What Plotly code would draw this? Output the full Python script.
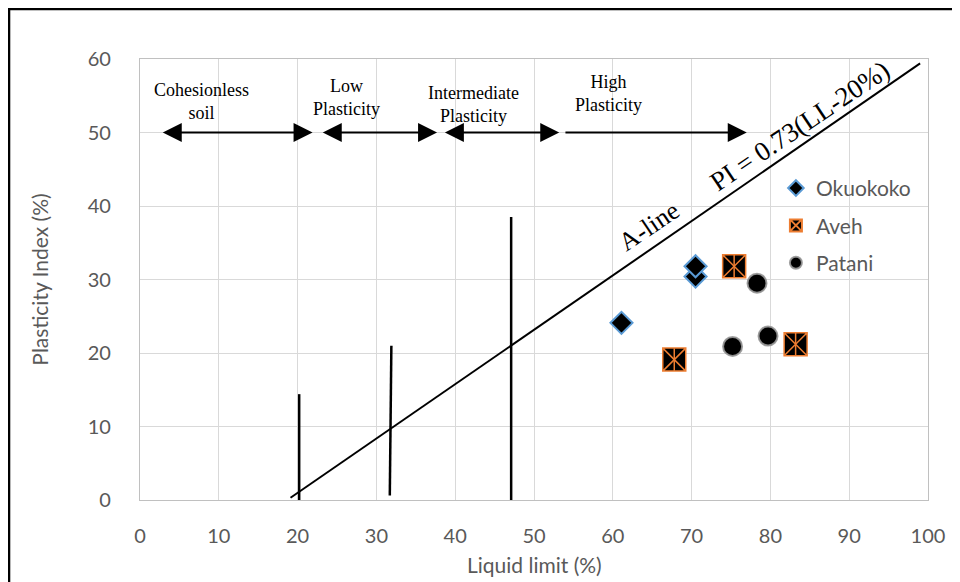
import plotly.graph_objects as go

# ---------------- data ----------------
oku_ll = [61.1, 70.5, 70.5]
oku_pi = [24.1, 30.4, 31.8]

aveh_ll = [67.8, 75.4, 83.2]
aveh_pi = [19.1, 31.8, 21.2]

pat_ll = [75.2, 78.3, 79.7]
pat_pi = [20.9, 29.5, 22.3]

aline_ll = [19.1, 99.0]
aline_pi = [0.3, 59.4]

div_ll_bottom = [20.2, 31.7, 47.1]
div_ll_top = [20.2, 31.9, 47.1]
div_pi_bottom = [0.0, 0.6, 0.0]
div_pi_top = [14.4, 21.0, 38.5]

arrow_from = [2.7, 23.0, 38.5, 53.8]
arrow_to = [21.9, 37.7, 53.2, 77.0]
arrow_pi = 50
arrow_both = [True, True, True, False]

zone_text = ["Cohesionless<br>soil", "Low<br>Plasticity", "Intermediate<br>Plasticity", "High<br>Plasticity"]
zone_ll = [7.8, 26.2, 42.3, 59.5]
zone_pi = [54.2, 54.8, 53.8, 55.3]

x_ticks = [0, 10, 20, 30, 40, 50, 60, 70, 80, 90, 100]
y_ticks = [0, 10, 20, 30, 40, 50, 60]

# ---------------- figure ----------------
GRAY = "#595959"
SERIF = "Liberation Serif, Times New Roman, serif"
SANS = "Lato, Liberation Sans, sans-serif"
ORANGE = "#ED7D31"

fig = go.Figure()

# A-line
fig.add_trace(go.Scatter(x=aline_ll, y=aline_pi, mode="lines",
                         line=dict(color="black", width=2), showlegend=False,
                         hoverinfo="skip"))

# zone divider lines
for i in range(len(div_ll_bottom)):
    fig.add_trace(go.Scatter(x=[div_ll_bottom[i], div_ll_top[i]],
                             y=[div_pi_bottom[i], div_pi_top[i]], mode="lines",
                             line=dict(color="black", width=2.5), showlegend=False,
                             hoverinfo="skip"))

# data series
fig.add_trace(go.Scatter(x=oku_ll, y=oku_pi, mode="markers", name="Okuokoko",
                         legendgroup="g1",
                         marker=dict(symbol="diamond", size=17, color="black",
                                     line=dict(color="#5B9BD5", width=2))))
fig.add_trace(go.Scatter(x=aveh_ll, y=aveh_pi, mode="markers", name="Aveh",
                         legendgroup="g2",
                         marker=dict(symbol="square-x", size=23, color="black",
                                     line=dict(color=ORANGE, width=1.5))))
fig.add_trace(go.Scatter(x=aveh_ll, y=aveh_pi, mode="markers", showlegend=False,
                         legendgroup="g2", hoverinfo="skip",
                         marker=dict(symbol="line-ns-open", size=16, color=ORANGE,
                                     line=dict(color=ORANGE, width=1.5))))
fig.add_trace(go.Scatter(x=pat_ll, y=pat_pi, mode="markers", name="Patani",
                         legendgroup="g3",
                         marker=dict(symbol="circle", size=19, color="black",
                                     line=dict(color="rgba(150,150,150,0.9)", width=2))))

annotations = []
# arrows
for a, b, both in zip(arrow_from, arrow_to, arrow_both):
    annotations.append(dict(x=b, y=arrow_pi, ax=a, ay=arrow_pi, xref="x", yref="y",
                            axref="x", ayref="y", text="", showarrow=True,
                            arrowhead=2, arrowsize=1.9, arrowwidth=2, arrowcolor="black",
                            startarrowhead=2, startarrowsize=1.9,
                            arrowside="end+start" if both else "end"))
# zone labels
for t, x, y in zip(zone_text, zone_ll, zone_pi):
    annotations.append(dict(x=x, y=y, xref="x", yref="y", text=t, showarrow=False,
                            font=dict(family=SERIF, size=18, color="black")))
# A-line labels
annotations.append(dict(x=83.7, y=50.9, xref="x", yref="y", text="PI = 0.73(LL-20%)",
                        showarrow=False, textangle=-34,
                        font=dict(family=SERIF, size=27, color="black")))
annotations.append(dict(x=64.6, y=37.2, xref="x", yref="y", text="A-line",
                        showarrow=False, textangle=-34,
                        font=dict(family=SERIF, size=26, color="black")))
# axis titles
annotations.append(dict(x=0.5, y=-0.147, xref="paper", yref="paper",
                        text="Liquid limit (%)", showarrow=False,
                        xanchor="center", yanchor="middle",
                        font=dict(family=SANS, size=21, color=GRAY)))
annotations.append(dict(x=-0.128, y=0.5, xref="paper", yref="paper",
                        text="Plasticity Index (%)", showarrow=False, textangle=-90,
                        xanchor="center", yanchor="middle",
                        font=dict(family=SANS, size=21, color=GRAY)))

# outer frame (top and left edges)
shapes = [
    dict(type="line", xref="paper", yref="paper", x0=-0.1662, x1=-0.1662, y0=1.1134, y1=-0.2,
         line=dict(color="black", width=2.5)),
    dict(type="line", xref="paper", yref="paper", x0=-0.168, x1=1.05, y0=1.1134, y1=1.1134,
         line=dict(color="black", width=2.5)),
]

fig.update_layout(
    width=952, height=574,
    margin=dict(l=132, r=32, t=51, b=82),
    paper_bgcolor="white", plot_bgcolor="white",
    font=dict(family=SANS, size=20, color=GRAY),
    annotations=annotations, shapes=shapes,
    legend=dict(x=0.807, y=0.753, xanchor="left", yanchor="top",
                bgcolor="rgba(0,0,0,0)", font=dict(family=SANS, size=21, color=GRAY),
                itemsizing="constant", tracegroupgap=7, traceorder="grouped"),
    xaxis=dict(range=[0, 100], tickvals=x_ticks, showgrid=True, gridcolor="#d9d9d9",
               gridwidth=1.3, zeroline=False, showline=True, linecolor="#c0c0c0",
               linewidth=1.3, mirror=True, ticks="", ticklabelstandoff=18,
               automargin=False,
               tickfont=dict(family=SANS, size=20, color=GRAY)),
    yaxis=dict(range=[0, 60], tickvals=y_ticks, showgrid=True, gridcolor="#d9d9d9",
               gridwidth=1.3, zeroline=False, showline=True, linecolor="#c0c0c0",
               linewidth=1.3, mirror=True, ticks="", ticklabelstandoff=24,
               automargin=False,
               tickfont=dict(family=SANS, size=20, color=GRAY)),
)

fig.write_html("out.html")
